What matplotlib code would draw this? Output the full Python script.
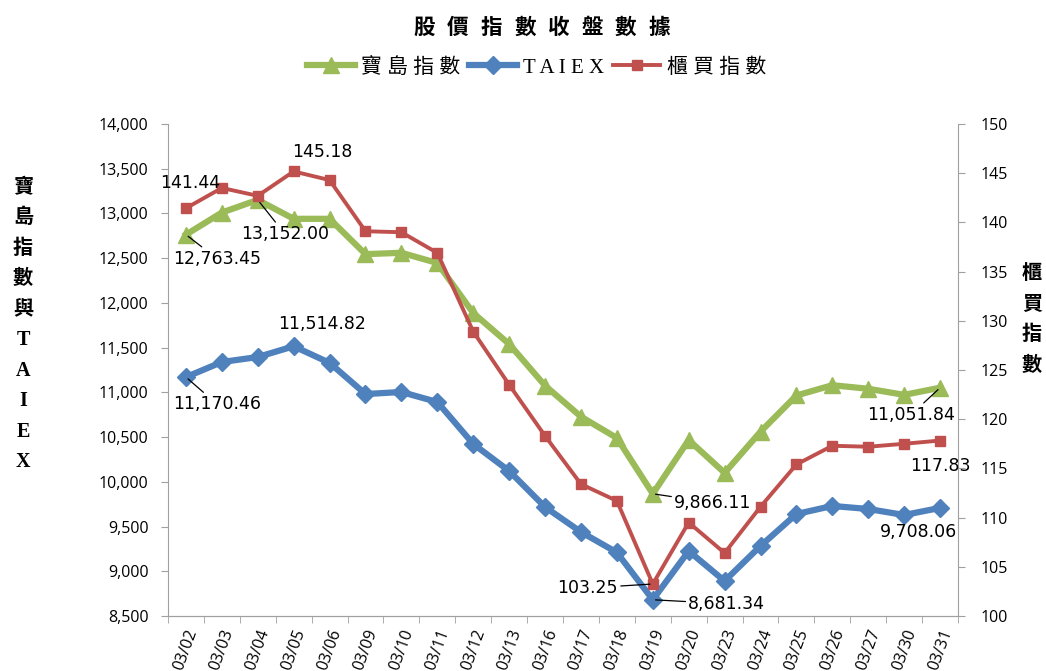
import matplotlib
matplotlib.use("Agg")
import matplotlib.pyplot as plt

# 資料 (三月收盤)
dates = ["03/02", "03/03", "03/04", "03/05", "03/06", "03/09", "03/10", "03/11",
         "03/12", "03/13", "03/16", "03/17", "03/18", "03/19", "03/20", "03/23",
         "03/24", "03/25", "03/26", "03/27", "03/30", "03/31"]
formosa = [12763.45, 13010, 13152.00, 12940, 12940, 12545, 12560, 12446,
           11887, 11540, 11075, 10728, 10490, 9866.11, 10467, 10100,
           10560, 10965, 11080, 11040, 10972, 11051.84]
taiex = [11170.46, 11339, 11395, 11514.82, 11330, 10981, 11004, 10892,
         10423, 10121, 9718, 9439, 9210, 8681.34, 9226, 8891,
         9283, 9640, 9730, 9696, 9629, 9708.06]
otc = [141.44, 143.5, 142.7, 145.18, 144.3, 139.1, 139.0, 136.9,
       128.9, 123.5, 118.3, 113.4, 111.7, 103.25, 109.5, 106.4,
       111.1, 115.4, 117.3, 117.2, 117.5, 117.83]
series_names = ["寶島指數", "TAIEX", "櫃買指數"]
title = "股價指數收盤數據"

GREEN = "#9BBB59"
BLUE = "#4F81BD"
RED = "#C0504D"
GRAY = "#A0A0A0"

tick_font = "Open Sans"
lbl_font = "DejaVu Sans"
cjk = ["Liberation Serif", "Noto Sans CJK TC"]

fig = plt.figure(figsize=(10.46, 6.71), dpi=100)
ax = fig.add_axes([0.1606, 0.0820, 0.7553, 0.7332])
ax2 = ax.twinx()

x = list(range(len(dates)))
l1, = ax.plot(x, formosa, color=GREEN, lw=4.5, marker="^", ms=12, zorder=3)
l2, = ax.plot(x, taiex, color=BLUE, lw=4.5, marker="D", ms=9, zorder=2)
l3, = ax2.plot(x, otc, color=RED, lw=2.8, marker="s", ms=7, zorder=3)

ax.set_xlim(-0.5, len(dates) - 0.5)
ax.set_ylim(8500, 14000)
ax2.set_ylim(100, 150)
ax.set_yticks(range(8500, 14001, 500))
ax.set_yticklabels([f"{v:,}" for v in range(8500, 14001, 500)],
                   fontfamily=tick_font, fontsize=11.5)
ax2.set_yticks(range(100, 151, 5))
ax2.set_yticklabels([str(v) for v in range(100, 151, 5)],
                    fontfamily=tick_font, fontsize=11.5)
ax.set_xticks(x)
ax.set_xticklabels(dates, rotation=70, ha="right", rotation_mode="anchor",
                   fontfamily=tick_font, fontsize=11.5)
ax.tick_params(axis="x", length=0, pad=8)
ax.set_xticks([i - 0.5 for i in range(len(dates) + 1)], minor=True)
ax.tick_params(axis="x", which="minor", length=5, color=GRAY)
ax.tick_params(axis="y", length=5, color=GRAY, pad=9)
ax2.tick_params(axis="y", length=5, color=GRAY, pad=11)

for a in (ax, ax2):
    a.spines["top"].set_visible(False)
    for s in ("left", "right", "bottom"):
        a.spines[s].set_color(GRAY)
ax2.spines["left"].set_visible(False)
ax.spines["right"].set_visible(False)

# 標註
def note(a, i, v, txt, dx, dy, line=True):
    kw = dict(arrowprops=dict(arrowstyle="-", color="black", lw=0.9,
                              shrinkA=0, shrinkB=2)) if line else {}
    a.annotate(txt, xy=(i, v), xytext=(dx, dy), textcoords="offset pixels",
               ha="center", va="center", fontfamily=lbl_font, fontsize=12.5,
               zorder=5, **kw)

note(ax2, 0, otc[0], f"{otc[0]:.2f}", 4, 25, line=False)
note(ax, 0, formosa[0], f"{formosa[0]:,.2f}", 31, -24)
note(ax, 2, formosa[2], f"{formosa[2]:,.2f}", 27, -34)
note(ax2, 3, otc[3], f"{otc[3]:.2f}", 29, 19, line=False)
note(ax, 3, taiex[3], f"{taiex[3]:,.2f}", 28, 22, line=False)
note(ax, 0, taiex[0], f"{taiex[0]:,.2f}", 31, -27)
note(ax, 13, formosa[13], f"{formosa[13]:,.2f}", 60, -9)
note(ax2, 13, otc[13], f"{otc[13]:.2f}", -65, -4)
note(ax, 13, taiex[13], f"{taiex[13]:,.2f}", 74, -4)
note(ax, 21, formosa[21], f"{formosa[21]:,.2f}", -29, -27)
note(ax2, 21, otc[21], f"{otc[21]:.2f}", 0, -25, line=False)
note(ax, 21, taiex[21], f"{taiex[21]:,.2f}", -22, -24, line=False)

# 標題 (字距較寬, 逐字放置)
step = 33.6 / 1046
x0 = 0.5178 - step * (len(title) - 1) / 2
for k, ch in enumerate(title):
    fig.text(x0 + k * step, 0.959, ch, ha="center", va="center",
             fontfamily="Noto Sans CJK TC", fontweight="bold", fontsize=15.5)

fig.legend([l1, l2, l3], [" ".join(s) for s in series_names], loc="center",
           bbox_to_anchor=(0.513, 0.899), ncol=3, frameon=False,
           prop=dict(family=cjk, size=15), handlelength=2.3,
           handletextpad=0.3, columnspacing=0.4)

fig.text(0.022, 0.5156, "\n".join("寶島指數與TAIEX"), ha="center", va="center",
         fontfamily=cjk, fontweight="bold", fontsize=14.5, linespacing=1.7)
fig.text(0.9866, 0.523, "\n".join("櫃買指數"), ha="center", va="center",
         fontfamily=cjk, fontweight="bold", fontsize=14.5, linespacing=1.7)

fig.savefig("out.png", dpi=100)
